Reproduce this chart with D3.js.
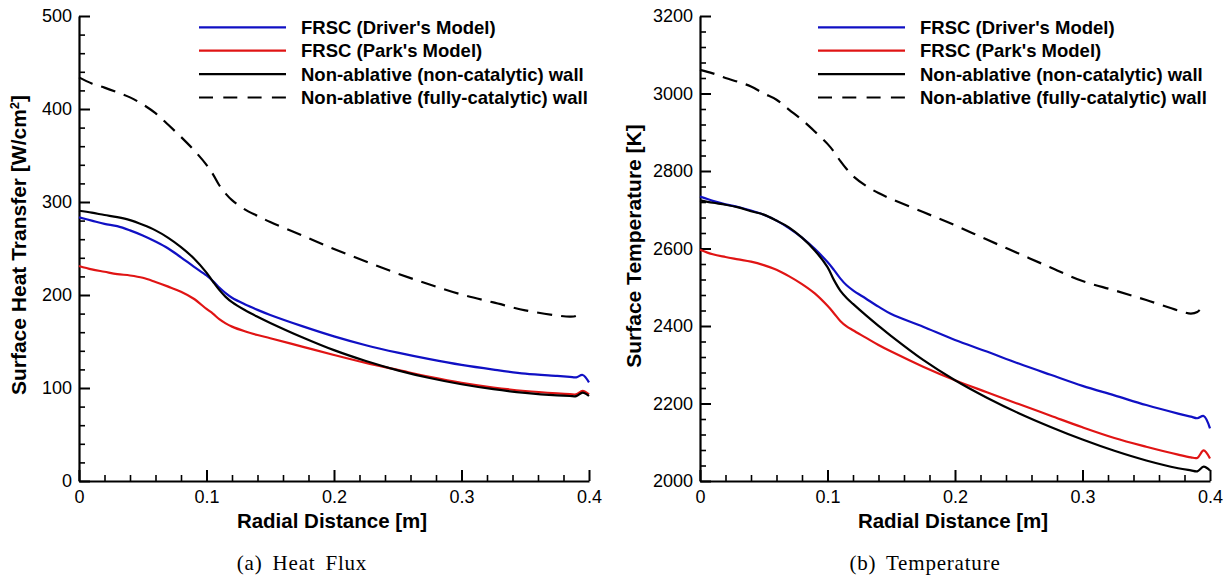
<!DOCTYPE html>
<html>
<head>
<meta charset="utf-8">
<script src="https://cdn.jsdelivr.net/npm/d3@7"></script>
<style>
  html, body { margin: 0; padding: 0; background: #fff; }
  svg { display: block; }
</style>
</head>
<body>
<svg id="chart" width="1229" height="578"></svg>
<script>
// ---------------- DATA ----------------
const radial = [0, 0.01, 0.02, 0.03, 0.04, 0.05, 0.06, 0.07, 0.08, 0.09, 0.1, 0.105, 0.11, 0.115, 0.12, 0.13, 0.14, 0.15, 0.175, 0.2, 0.225, 0.25, 0.275, 0.3, 0.325, 0.35, 0.375, 0.385, 0.39, 0.395, 0.4];

// Heat flux [W/cm^2]
const heatDriver  = [283.5, 280, 276.5, 274, 269.5, 264, 257.5, 250, 240.5, 230.5, 221, 215, 208, 202, 197, 190, 184, 178.5, 166.5, 155.5, 146, 138, 131, 124.8, 119.8, 115.5, 113, 112, 111.5, 114, 106];
const heatPark    = [231.2, 227.5, 225, 222.5, 221, 218.5, 214, 209, 203.5, 196, 185, 180, 174, 169.5, 166, 161, 157, 153.5, 144.5, 135.5, 127, 119.5, 112, 105.5, 100.5, 96.8, 94.2, 93.4, 93.2, 97, 93.2];
const heatNonCat  = [290.6, 288.5, 286, 283.7, 280.5, 275.5, 269.5, 261.5, 251.5, 239.5, 224, 214.5, 205.5, 198, 192.3, 183.8, 176.6, 170, 154.6, 140.7, 129, 119, 110.7, 104, 98.7, 94.7, 92, 91.4, 91.3, 95, 91.4];
const heatFullCat = [434, 427.5, 423, 418, 412.5, 405, 395.5, 383, 370, 356, 340, 330, 318, 309, 302, 292, 285, 278.5, 264, 249.5, 236, 223, 211.3, 200.5, 192, 183.5, 178, 176.7, 177.5, 183, null];

// Surface temperature [K]
const tempDriver  = [2734, 2723, 2714, 2707, 2698, 2687, 2672, 2652, 2628, 2599, 2565, 2545, 2523, 2505, 2492, 2471, 2450, 2431, 2398, 2364, 2334, 2303, 2274, 2245.5, 2221, 2196, 2174, 2166, 2162, 2168, 2136];
const tempPark    = [2597, 2585, 2578, 2572, 2566, 2557, 2545, 2528, 2508, 2484, 2452, 2433, 2413, 2399, 2389, 2370, 2351, 2334, 2295, 2260, 2229, 2198.5, 2168.5, 2138.5, 2111, 2088.5, 2068, 2061, 2059.5, 2079, 2058];
const tempNonCat  = [2724, 2718, 2713, 2706, 2696, 2687.5, 2672, 2654, 2628, 2595, 2552, 2519, 2491.5, 2472.5, 2457, 2428, 2400.5, 2374, 2312.5, 2260, 2215, 2175, 2139.5, 2107, 2078, 2053, 2033, 2027.5, 2025, 2037, 2027];
const tempFullCat = [3061, 3052, 3040, 3030, 3018, 3000, 2984, 2958, 2932, 2902, 2870, 2850, 2826, 2805, 2787, 2762, 2743, 2728, 2694, 2660, 2623, 2587, 2551, 2516, 2492, 2467, 2440, 2432, 2436, 2453, null];

const legendLabels = ["FRSC (Driver's Model)", "FRSC (Park's Model)", "Non-ablative (non-catalytic) wall", "Non-ablative (fully-catalytic) wall"];
const xTickValues = [0, 0.1, 0.2, 0.3, 0.4];
const heatTickValues = [0, 100, 200, 300, 400, 500];
const tempTickValues = [2000, 2200, 2400, 2600, 2800, 3000, 3200];
const xTitle = "Radial Distance [m]";
const captions = ["(a) Heat Flux", "(b) Temperature"];

// ---------------- STYLE ----------------
const colors = ["#1010c4", "#e01414", "#000000", "#000000"];
const dashes = [null, null, null, "15,9"];
const sansFont = "'Liberation Sans', Arial, Helvetica, sans-serif";
const serifFont = "'Liberation Serif', 'Times New Roman', serif";

const svg = d3.select("#chart");

function drawPanel(opts) {
  const x = d3.scaleLinear().domain([0, 0.4]).range([opts.left, opts.right]);
  const y = d3.scaleLinear().domain(opts.yDomain).range([481, 16]);
  const g = svg.append("g");

  // minor ticks
  const xMinor = d3.range(0, 0.4001, 0.02).filter(v => Math.abs(v * 10 - Math.round(v * 10)) > 1e-6);
  const yMinor = d3.range(opts.yDomain[0], opts.yDomain[1] + 1e-6, opts.yMinorStep).filter(v => Math.abs(v % opts.yMajorStep) > 1e-6);

  g.append("g").attr("transform", `translate(0,481)`)
    .call(d3.axisBottom(x).tickValues(xMinor).tickSizeInner(-6).tickSizeOuter(0).tickFormat(""))
    .call(a => a.select(".domain").remove())
    .call(a => a.selectAll("line").attr("stroke-width", 1.6));
  g.append("g").attr("transform", `translate(${opts.left},0)`)
    .call(d3.axisLeft(y).tickValues(yMinor).tickSizeInner(-6).tickSizeOuter(0).tickFormat(""))
    .call(a => a.select(".domain").remove())
    .call(a => a.selectAll("line").attr("stroke-width", 1.6));

  // major axes
  const xa = g.append("g").attr("transform", `translate(0,481)`)
    .call(d3.axisBottom(x).tickValues(xTickValues).tickSizeInner(-11).tickSizeOuter(0).tickPadding(9)
      .tickFormat(d => d === 0 ? "0" : d3.format(".1f")(d)));
  const ya = g.append("g").attr("transform", `translate(${opts.left},0)`)
    .call(d3.axisLeft(y).tickValues(opts.yTicks).tickSizeInner(-11).tickSizeOuter(0).tickPadding(7).tickFormat(d3.format("d")));
  [xa, ya].forEach(a => {
    a.select(".domain").attr("stroke-width", 2.2);
    a.selectAll("line").attr("stroke-width", 2);
    a.selectAll("text").attr("font-family", sansFont).attr("font-size", 18).attr("fill", "#000");
  });

  // data lines
  const line = d3.line()
    .defined(d => d[1] !== null)
    .x(d => x(d[0])).y(d => y(d[1]))
    .curve(d3.curveCatmullRom.alpha(0.5));
  opts.series.forEach((vals, i) => {
    g.append("path")
      .datum(radial.map((r, k) => [r, vals[k]]))
      .attr("fill", "none")
      .attr("stroke", colors[i])
      .attr("stroke-width", 2.2)
      .attr("stroke-linejoin", "round")
      .attr("stroke-dasharray", dashes[i])
      .attr("d", line);
  });

  // legend
  const lg = g.append("g");
  legendLabels.forEach((lab, i) => {
    const yy = 27.3 + i * 23.4;
    lg.append("line")
      .attr("x1", opts.legendX).attr("x2", opts.legendX + 87)
      .attr("y1", yy).attr("y2", yy)
      .attr("stroke", colors[i]).attr("stroke-width", 2.2)
      .attr("stroke-dasharray", dashes[i] ? "14,10.3" : null);
    lg.append("text")
      .attr("x", opts.legendX + 102).attr("y", yy).attr("dy", "0.36em")
      .attr("font-family", sansFont).attr("font-weight", "bold").attr("font-size", 18.5)
      .text(lab);
  });

  // x title
  g.append("text")
    .attr("x", (opts.left + opts.right) / 2 - 2).attr("y", 528)
    .attr("text-anchor", "middle")
    .attr("font-family", sansFont).attr("font-weight", "bold").attr("font-size", 20.5)
    .text(xTitle);

  // y title
  const yt = g.append("text")
    .attr("transform", `translate(${opts.yTitleX},${opts.yTitleY}) rotate(-90)`)
    .attr("text-anchor", "middle").attr("dy", "0.36em")
    .attr("font-family", sansFont).attr("font-weight", "bold").attr("font-size", 21);
  opts.yTitle(yt);

  // caption
  g.append("text")
    .attr("x", opts.captionX).attr("y", 570)
    .attr("text-anchor", "middle")
    .attr("font-family", serifFont).attr("font-size", 21)
    .attr("letter-spacing", 0.8).attr("word-spacing", 4)
    .text(opts.caption);
}

drawPanel({
  left: 79, right: 589, yDomain: [0, 500], yTicks: heatTickValues, yMajorStep: 100, yMinorStep: 20,
  series: [heatDriver, heatPark, heatNonCat, heatFullCat],
  legendX: 199, yTitleX: 18, yTitleY: 245, captionX: 302, caption: captions[0],
  yTitle: t => {
    t.append("tspan").text("Surface Heat Transfer [W/cm");
    t.append("tspan").attr("baseline-shift", "super").attr("font-size", 13).text("2");
    t.append("tspan").text("]");
  }
});

drawPanel({
  left: 700, right: 1210, yDomain: [2000, 3200], yTicks: tempTickValues, yMajorStep: 200, yMinorStep: 40,
  series: [tempDriver, tempPark, tempNonCat, tempFullCat],
  legendX: 818, yTitleX: 633, yTitleY: 246, captionX: 925, caption: captions[1],
  yTitle: t => t.text("Surface Temperature [K]")
});
</script>
</body>
</html>
